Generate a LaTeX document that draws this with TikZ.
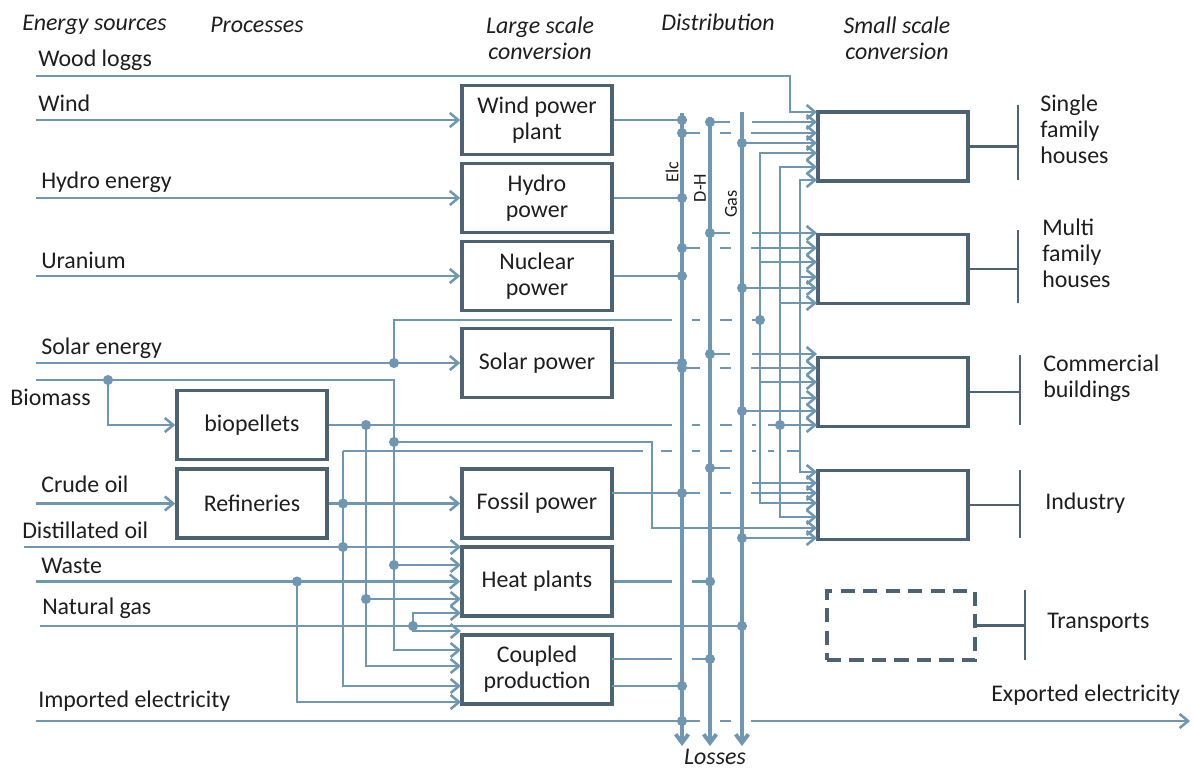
\documentclass[tikz,border=0pt]{standalone}
\usepackage{fontspec}
\setmainfont{Carlito}
\usetikzlibrary{arrows.meta}
\definecolor{flowblue}{RGB}{111,151,177}
\definecolor{boxgray}{RGB}{78,99,114}
\definecolor{txtgray}{RGB}{30,30,30}

\begin{document}
\begin{tikzpicture}[x=0.025cm, y=-0.025cm,
	every node/.style={font=\fontsize{17}{18.5}\selectfont, text=txtgray},
	flow/.style={draw=flowblue, line width=1.8pt},
	arr/.style={flow, -{Straight Barb[length=6pt, width=10pt]}},
	arrs/.style={flow, {Straight Barb[length=6pt, width=10pt]}-{Straight Barb[length=6pt, width=10pt]}},
	bus/.style={draw=flowblue, line width=2.8pt, -{Straight Barb[length=6pt, width=9pt]}},
	box/.style={draw=boxgray, line width=2.5pt, minimum width=3.75cm, minimum height=1.73cm, align=center, inner sep=0pt},
	bar/.style={draw=boxgray, line width=1.6pt},
	head/.style={font=\fontsize{17}{18.5}\selectfont\itshape, align=center},
	src/.style={anchor=west, inner sep=0pt},
	buslabel/.style={font=\fontsize{13}{15}\selectfont, rotate=90, inner sep=0pt}]
	\useasboundingbox (0,0) rectangle (1193,769);
	% headings
	\node[head, anchor=west, inner sep=0pt] (hsrc) at (22,25) {Energy sources};
	\node[head, anchor=west, inner sep=0pt] (hproc) at (210,25) {Processes};
	\node[head] (hlarge) at (540,38) {Large scale\\conversion};
	\node[head] (hdist) at (718,22) {Distribution};
	\node[head] (hsmall) at (897,38) {Small scale\\conversion};
	% energy sources
	\node[src] (lwood) at (38,60) {Wood loggs};
	\node[src] (lwind) at (38,103) {Wind};
	\node[src] (lhydro) at (41,182) {Hydro energy};
	\node[src] (lura) at (41,260) {Uranium};
	\node[src] (lsolar) at (41,348) {Solar energy};
	\node[src] (lbio) at (10,397) {Biomass};
	\node[src] (lcrude) at (41,484) {Crude oil};
	\node[src] (ldist) at (22,530) {Distillated oil};
	\node[src] (lwaste) at (41,566) {Waste};
	\node[src] (lgas) at (42,608) {Natural gas};
	\node[src] (limp) at (38,701) {Imported electricity};
	% processes and large scale conversion
	\node[box] (pellets) at (252,425) {biopellets};
	\node[box] (refin) at (252,503.5) {Refineries};
	\node[box] (wind) at (537,120) {Wind power\\plant};
	\node[box] (hydro) at (537,198) {Hydro\\power};
	\node[box] (nuclear) at (537,276) {Nuclear\\power};
	\node[box] (solar) at (537,363) {Solar power};
	\node[box] (fossil) at (537,503.5) {Fossil power};
	\node[box] (heat) at (537,581.5) {Heat plants};
	\node[box] (chp) at (537,669.5) {Coupled\\production};
	% small scale conversion
	\node[box] (single) at (893,146.5) {};
	\node[box] (multi) at (893,269) {};
	\node[box] (comm) at (893,392) {};
	\node[box] (indu) at (893,505) {};
	\node[box, minimum width=3.7cm, dash pattern=on 10pt off 6pt] (trans) at (901,625.5) {};
	\node[src, align=left] (lsingle) at (1040,129) {Single\\family\\houses};
	\node[src, align=left] (lmulti) at (1042,253) {Multi\\family\\houses};
	\node[src, align=left] (lcomm) at (1043,378) {Commercial\\buildings};
	\node[src] (lindu) at (1045,503) {Industry};
	\node[src] (ltrans) at (1047,623) {Transports};
	\node[src] (lexp) at (991,695) {Exported electricity};
	\draw[bar] (single.east) -- (1018,146.5) (1018,105) -- (1018,180);
	\draw[bar] (multi.east) -- (1018,269) (1018,230) -- (1018,303);
	\draw[bar] (comm.east) -- (1020,392) (1020,355) -- (1020,425);
	\draw[bar] (indu.east) -- (1020,505) (1020,470) -- (1020,538);
	\draw[bar] (trans.east) -- (1025,625.5) (1025,590) -- (1025,660);

	% lines crossing the buses (drawn with gaps)
	\draw[flow] (394,363) -- (394,320) -- (672,320) (692,320) -- (700,320) (720,320) -- (732,320) (752,320) -- (760,320);
	\draw[flow] (pellets.east) -- (672,425) (692,425) -- (700,425) (720,425) -- (732,425) (752,425) -- (756,425) (768,425) -- (780,425);
	\draw[flow] (800,451) -- (787,451) (774,451) -- (768,451) (756,451) -- (752,451) (732,451) -- (720,451) (700,451) -- (692,451) (672,451) -- (661,451) (643,451) -- (343,451);
	\foreach \y in {133,248,368} {
		\draw[flow] (682,\y) -- (700,\y) (720,\y) -- (731,\y);
		\draw[arr] (751,\y) -- (817,\y);
	}
	\foreach \y in {122,233,354} {
		\draw[flow] (710,\y) -- (730,\y);
		\draw[arr] (752,\y) -- (817,\y);
	}
	\draw[flow] (710,468) -- (730,468);
	\draw[arr] (752,483) -- (817,483);
	\draw[flow] (612,493) -- (700,493) (720,493) -- (731,493);
	\draw[arr] (751,493) -- (817,493);
	\draw[flow] (heat.east) -- (672,581.5) (692,581.5) -- (710,581.5);
	\draw[flow] (612,659) -- (672,659) (692,659) -- (710,659);
	\draw[flow] (36,721) -- (700,721) (720,721) -- (731,721);
	\draw[arr] (751,721) -- (1190,721);

	% distribution buses
	\draw[bus] (682,113) -- (682,746);
	\draw[bus] (710,117) -- (710,746);
	\draw[bus] (742,112) -- (742,746);
	\node[buslabel] (lelc) at (672,172) {Elc};
	\node[buslabel] (ldh) at (700,188) {D-H};
	\node[buslabel] (lgasbus) at (731,204) {Gas};
	\node[head, inner sep=0pt] (losses) at (715,757) {Losses};

	% energy sources into processes
	\draw[arr] (36,76) -- (790,76) -- (790,112) -- (817,112);
	\draw[arr] (36,120) -- (wind.west);
	\draw[arr] (36,198) -- (hydro.west);
	\draw[arr] (36,276) -- (nuclear.west);
	\draw[arr] (36,363) -- (solar.west);
	\draw[arr] (36,380) -- (394,380) -- (394,650) -- (461,650);
	\draw[arr] (108,380) -- (108,425) -- (pellets.west);
	\draw[arr] (36,503.5) -- (refin.west);
	\draw[arr] (refin.east) -- (fossil.west);
	\draw[arr] (24,547) -- (461,547);
	\draw[arr] (36,581.5) -- (heat.west);
	\draw[flow] (40,626) -- (742,626);
	\draw[arr] (413,626) -- (413,613) -- (461,613);
	\draw[arr] (413,626) -- (413,631) -- (461,631);
	\draw[arr] (297,581.5) -- (297,702) -- (461,702);
	\draw[arr] (343,451) -- (343,686) -- (461,686);
	\draw[arr] (366,425) -- (366,666) -- (461,666);
	\draw[arr] (366,599) -- (461,599);
	\draw[arr] (394,565) -- (461,565);
	\draw[arr] (394,442) -- (652,442) -- (652,528) -- (817,528);

	% large scale conversion into the buses
	\draw[flow] (wind.east) -- (682,120);
	\draw[flow] (hydro.east) -- (682,198);
	\draw[flow] (nuclear.east) -- (682,276);
	\draw[flow] (solar.east) -- (682,363);
	\draw[flow] (612,686) -- (682,686);

	% buses and carriers into small scale conversion
	\foreach \y in {143,288,411,538}
		\draw[arr] (742,\y) -- (817,\y);
	\draw[arrs] (817,153) -- (760,153) -- (760,503) -- (817,503);
	\draw[arrs] (817,167) -- (780,167) -- (780,517) -- (817,517);
	\draw[arrs] (817,180) -- (800,180) -- (800,472) -- (817,472);
	\foreach \y in {262,382}
		\draw[arr] (760,\y) -- (817,\y);
	\draw[arr] (780,303) -- (817,303);
	\draw[arr] (780,425) -- (817,425);
	\foreach \y in {277,398}
		\draw[arr] (800,\y) -- (817,\y);

	% junctions
	\foreach \x/\y in {682/120, 682/133, 682/198, 682/248, 682/276, 682/363, 682/368, 682/493, 682/686, 682/721,
		710/122, 710/233, 710/354, 710/468, 710/581.5, 710/659, 742/143, 742/288, 742/411, 742/538, 742/626,
		760/320, 780/425, 108/380, 394/363, 394/442, 394/565, 366/425, 366/599, 343/503.5, 343/547, 297/581.5, 413/626}
		\fill[flowblue] (\x,\y) circle[radius=3.6pt];
\end{tikzpicture}
\end{document}
